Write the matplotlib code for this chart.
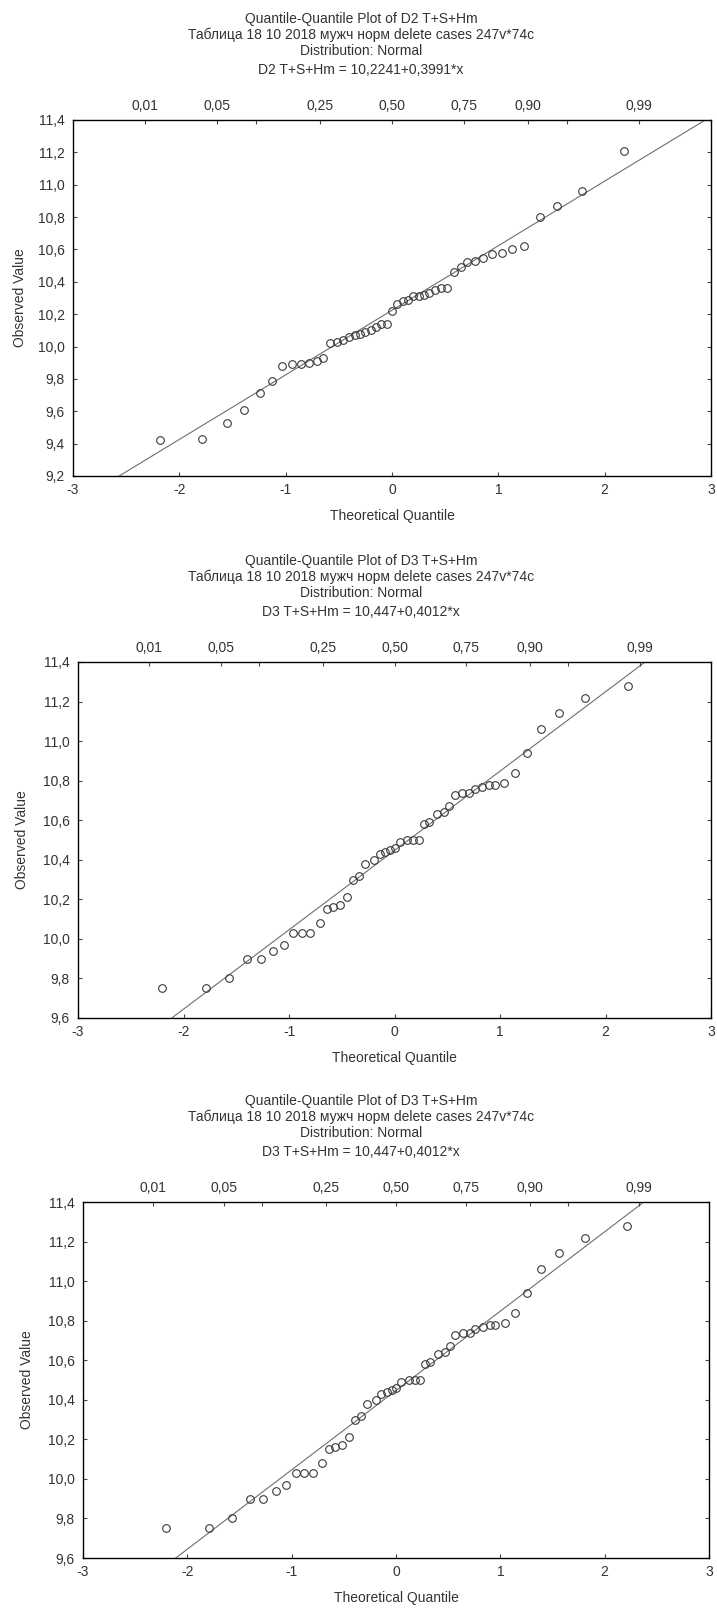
import statistics
import matplotlib
matplotlib.use("Agg")
import matplotlib.pyplot as plt
from matplotlib.ticker import FuncFormatter

plt.rcParams['font.family'] = ['Liberation Sans', 'DejaVu Sans']
plt.rcParams['axes.unicode_minus'] = False

# ---- data ----
title_d2 = ["Quantile-Quantile Plot of D2 T+S+Hm",
            "Таблица 18 10 2018 мужч норм delete cases 247v*74c",
            "Distribution: Normal",
            "D2 T+S+Hm = 10,2241+0,3991*x"]
title_d3 = ["Quantile-Quantile Plot of D3 T+S+Hm",
            "Таблица 18 10 2018 мужч норм delete cases 247v*74c",
            "Distribution: Normal",
            "D3 T+S+Hm = 10,447+0,4012*x"]

d2_q = [-2.18, -1.79, -1.55, -1.39, -1.24, -1.13, -1.03, -0.94, -0.86, -0.78,
        -0.71, -0.65, -0.58, -0.52, -0.46, -0.40, -0.35, -0.30, -0.25, -0.20,
        -0.15, -0.10, -0.05, 0.00, 0.05, 0.10, 0.15, 0.20, 0.25, 0.30,
        0.35, 0.40, 0.46, 0.52, 0.58, 0.65, 0.71, 0.78, 0.86, 0.94,
        1.03, 1.13, 1.24, 1.39, 1.55, 1.79, 2.18]
d2_obs = [9.42, 9.43, 9.53, 9.61, 9.71, 9.79, 9.88, 9.89, 9.89, 9.90,
          9.91, 9.93, 10.02, 10.03, 10.04, 10.06, 10.07, 10.08, 10.09, 10.10,
          10.12, 10.14, 10.14, 10.22, 10.26, 10.28, 10.29, 10.31, 10.31, 10.32,
          10.33, 10.35, 10.36, 10.36, 10.46, 10.49, 10.52, 10.53, 10.55, 10.57,
          10.58, 10.60, 10.62, 10.80, 10.87, 10.96, 11.21]
d2_fit = (10.2241, 0.3991)

d3_q = [-2.20, -1.79, -1.57, -1.40, -1.27, -1.15, -1.05, -0.96, -0.88, -0.80,
        -0.71, -0.64, -0.58, -0.52, -0.45, -0.39, -0.34, -0.28, -0.19, -0.14,
        -0.09, -0.04, 0.00, 0.05, 0.12, 0.18, 0.23, 0.28, 0.33, 0.40,
        0.47, 0.52, 0.57, 0.64, 0.71, 0.76, 0.83, 0.90, 0.95, 1.04,
        1.14, 1.26, 1.39, 1.56, 1.81, 2.21]
d3_obs = [9.75, 9.75, 9.80, 9.90, 9.90, 9.94, 9.97, 10.03, 10.03, 10.03,
          10.08, 10.15, 10.16, 10.17, 10.21, 10.30, 10.32, 10.38, 10.40, 10.43,
          10.44, 10.45, 10.46, 10.49, 10.50, 10.50, 10.50, 10.58, 10.59, 10.63,
          10.64, 10.67, 10.73, 10.74, 10.74, 10.76, 10.77, 10.78, 10.78, 10.79,
          10.84, 10.94, 11.06, 11.14, 11.22, 11.28]
d3_fit = (10.447, 0.4012)

prob_ticks = [0.01, 0.05, 0.25, 0.50, 0.75, 0.90, 0.99]
prob_minor = [0.10, 0.95]
x_ticks = [-3, -2, -1, 0, 1, 2, 3]

W, H = 717, 1611
TXT = '#333333'
FS = 10

fig = plt.figure(figsize=(W / 100, H / 100), dpi=100)
fig.patch.set_facecolor('white')

comma = FuncFormatter(lambda v, p: f"{v:.1f}".replace('.', ','))
nd = statistics.NormalDist()


def panel(box, titles, q, obs, fit, ylim, ylab_x):
    l, r, t, b = box
    ax = fig.add_axes([l / W, 1 - b / H, (r - l) / W, (b - t) / H])
    a, k = fit
    ax.plot([-3, 3], [a + k * -3, a + k * 3], color='#6e6e6e', lw=0.8,
            zorder=2)
    ax.plot(q, obs, 'o', mfc='none', mec='#3a3a3a', ms=5.5, mew=0.8, zorder=3)
    ax.set_xlim(-3, 3)
    ax.set_ylim(*ylim)
    n = int(round((ylim[1] - ylim[0]) / 0.2))
    ax.set_yticks([round(ylim[0] + 0.2 * i, 1) for i in range(n + 1)])
    ax.yaxis.set_major_formatter(comma)
    ax.set_xticks(x_ticks)
    ax.set_xticklabels([str(v) for v in x_ticks])
    ax.tick_params(direction='in', length=3, width=0.8, colors='#444444',
                   labelcolor=TXT, labelsize=FS, right=True)
    ax.tick_params(axis='y', pad=6)
    ax.tick_params(axis='x', pad=5)
    for s in ax.spines.values():
        s.set_color('#444444')
        s.set_linewidth(1.0)

    top = ax.twiny()
    top.set_xlim(-3, 3)
    top.set_xticks([nd.inv_cdf(p) for p in prob_ticks])
    top.set_xticklabels([f"{p:.2f}".replace('.', ',') for p in prob_ticks])
    top.set_xticks([nd.inv_cdf(p) for p in prob_minor], minor=True)
    top.tick_params(which='both', direction='in', length=3, width=0.8,
                    colors='#444444', labelcolor=TXT, labelsize=FS, pad=5)

    # STATISTICA centres the header on the page, not on the plot box
    cx = 361 / W
    for i, (txt, off) in enumerate(zip(titles, [101, 85, 69, 50])):
        fam = ['Liberation Sans Narrow', 'Liberation Sans'] if i == 1 else None
        fig.text(cx, 1 - (t - off) / H, txt, ha='center', va='center',
                 fontsize=FS, color=TXT, family=fam)
    fig.text((l + r) / 2 / W, 1 - (b + 40) / H, "Theoretical Quantile",
             ha='center', va='center', fontsize=FS, color=TXT)
    fig.text(ylab_x / W, 1 - (t + b) / 2 / H, "Observed Value", ha='center',
             va='center', rotation=90, fontsize=FS, color=TXT)


panel((73, 711, 120, 476), title_d2, d2_q, d2_obs, d2_fit, (9.2, 11.4), 20)
panel((78, 711, 662, 1018), title_d3, d3_q, d3_obs, d3_fit, (9.6, 11.4), 22)
panel((83, 709, 1202, 1558), title_d3, d3_q, d3_obs, d3_fit, (9.6, 11.4), 27)

fig.savefig('out.png', dpi=100, facecolor='white')
